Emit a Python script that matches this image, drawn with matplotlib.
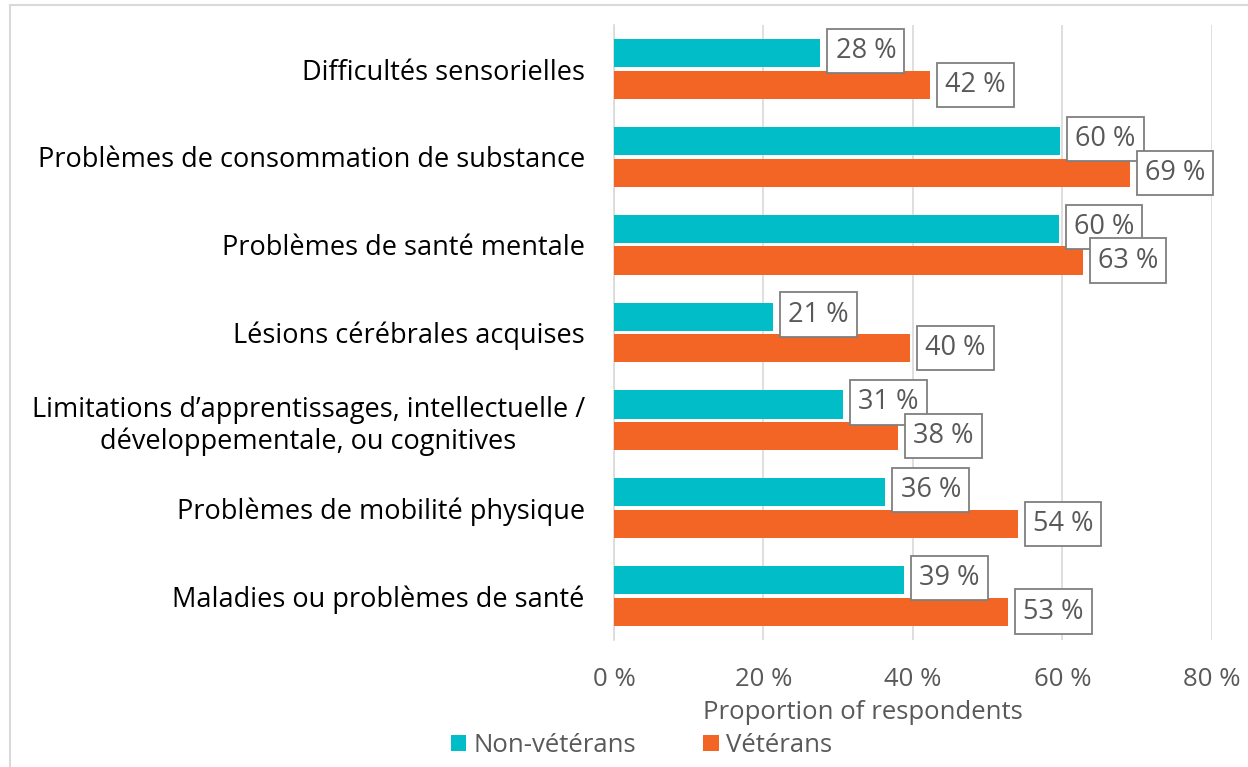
import numpy as np
import matplotlib.pyplot as plt
from matplotlib.lines import Line2D

plt.rcParams['font.family'] = ['Open Sans', 'DejaVu Sans']

# data
categories = [
    "Difficultés sensorielles",
    "Problèmes de consommation de substance",
    "Problèmes de santé mentale",
    "Lésions cérébrales acquises",
    "Limitations d\u2019apprentissages, intellectuelle /\ndéveloppementale, ou cognitives",
    "Problèmes de mobilité physique",
    "Maladies ou problèmes de santé",
]
non_veterans = [27.6, 59.7, 59.5, 21.3, 30.6, 36.3, 38.8]
veterans = [42.3, 69.0, 62.7, 39.6, 38.0, 54.0, 52.7]
xticks = [0, 20, 40, 60, 80]

cyan = '#00BDC8'
orange = '#F26524'
grey_text = '#595959'

fig = plt.figure(figsize=(12.48, 7.67), dpi=100)
ax = fig.add_axes([0.492, 0.166, 0.479, 0.801])

y = np.arange(len(categories))
h = 0.32
ax.barh(y - h / 2 - 0.02, non_veterans, height=h, color=cyan, label='Non-vétérans', zorder=3)
ax.barh(y + h / 2 + 0.02, veterans, height=h, color=orange, label='Vétérans', zorder=3)

# value labels in boxes
for yi, v in zip(y - h / 2 - 0.02, non_veterans):
    ax.annotate(f"{v:.0f} %", (v, yi), xytext=(11, 1.5), textcoords='offset points',
                va='center', ha='left', fontsize=19.5, color=grey_text,
                bbox=dict(boxstyle='square,pad=0.3', fc='white', ec='#7f7f7f', lw=1.3))
for yi, v in zip(y + h / 2 + 0.02, veterans):
    ax.annotate(f"{v:.0f} %", (v, yi), xytext=(11, 0), textcoords='offset points',
                va='center', ha='left', fontsize=19.5, color=grey_text,
                bbox=dict(boxstyle='square,pad=0.3', fc='white', ec='#7f7f7f', lw=1.3))

ax.set_xlim(0, 80)
ax.set_ylim(len(categories) - 0.5, -0.5)
ax.set_xticks(xticks)
ax.set_xticklabels([f"{t} %" for t in xticks], fontsize=18.5, color=grey_text)
ax.set_yticks(y)
ax.set_yticklabels(categories, fontsize=19.5, color='black')
for lbl in ax.get_yticklabels():
    lbl.set_multialignment('center')
ax.tick_params(axis='both', length=0)
ax.tick_params(axis='x', pad=20)
ax.tick_params(axis='y', pad=21)
ax.xaxis.grid(True, color='#d9d9d9', lw=1.2, zorder=0)
for s in ['top', 'right', 'bottom']:
    ax.spines[s].set_visible(False)
ax.spines['left'].set_color('#d9d9d9')
ax.spines['left'].set_linewidth(1.2)
ax.set_xlabel("Proportion of respondents", fontsize=18.5, color=grey_text, labelpad=6)
ax.xaxis.set_label_coords(0.416, -0.098)

leg = fig.legend(loc='center', bbox_to_anchor=(0.514, 0.028), ncol=2, frameon=False,
                 fontsize=18.5, handlelength=0.6, handleheight=0.6, handletextpad=0.3,
                 columnspacing=2.6)
for t in leg.get_texts():
    t.set_color(grey_text)

# chart area border (left and top visible)
fig.add_artist(Line2D([10 / 1248, 10 / 1248], [0, 1 - 5 / 767], transform=fig.transFigure,
                      color='#d9d9d9', lw=1.5))
fig.add_artist(Line2D([10 / 1248, 1], [1 - 5 / 767, 1 - 5 / 767], transform=fig.transFigure,
                      color='#d9d9d9', lw=1.5))

fig.savefig('out.png', dpi=100)
